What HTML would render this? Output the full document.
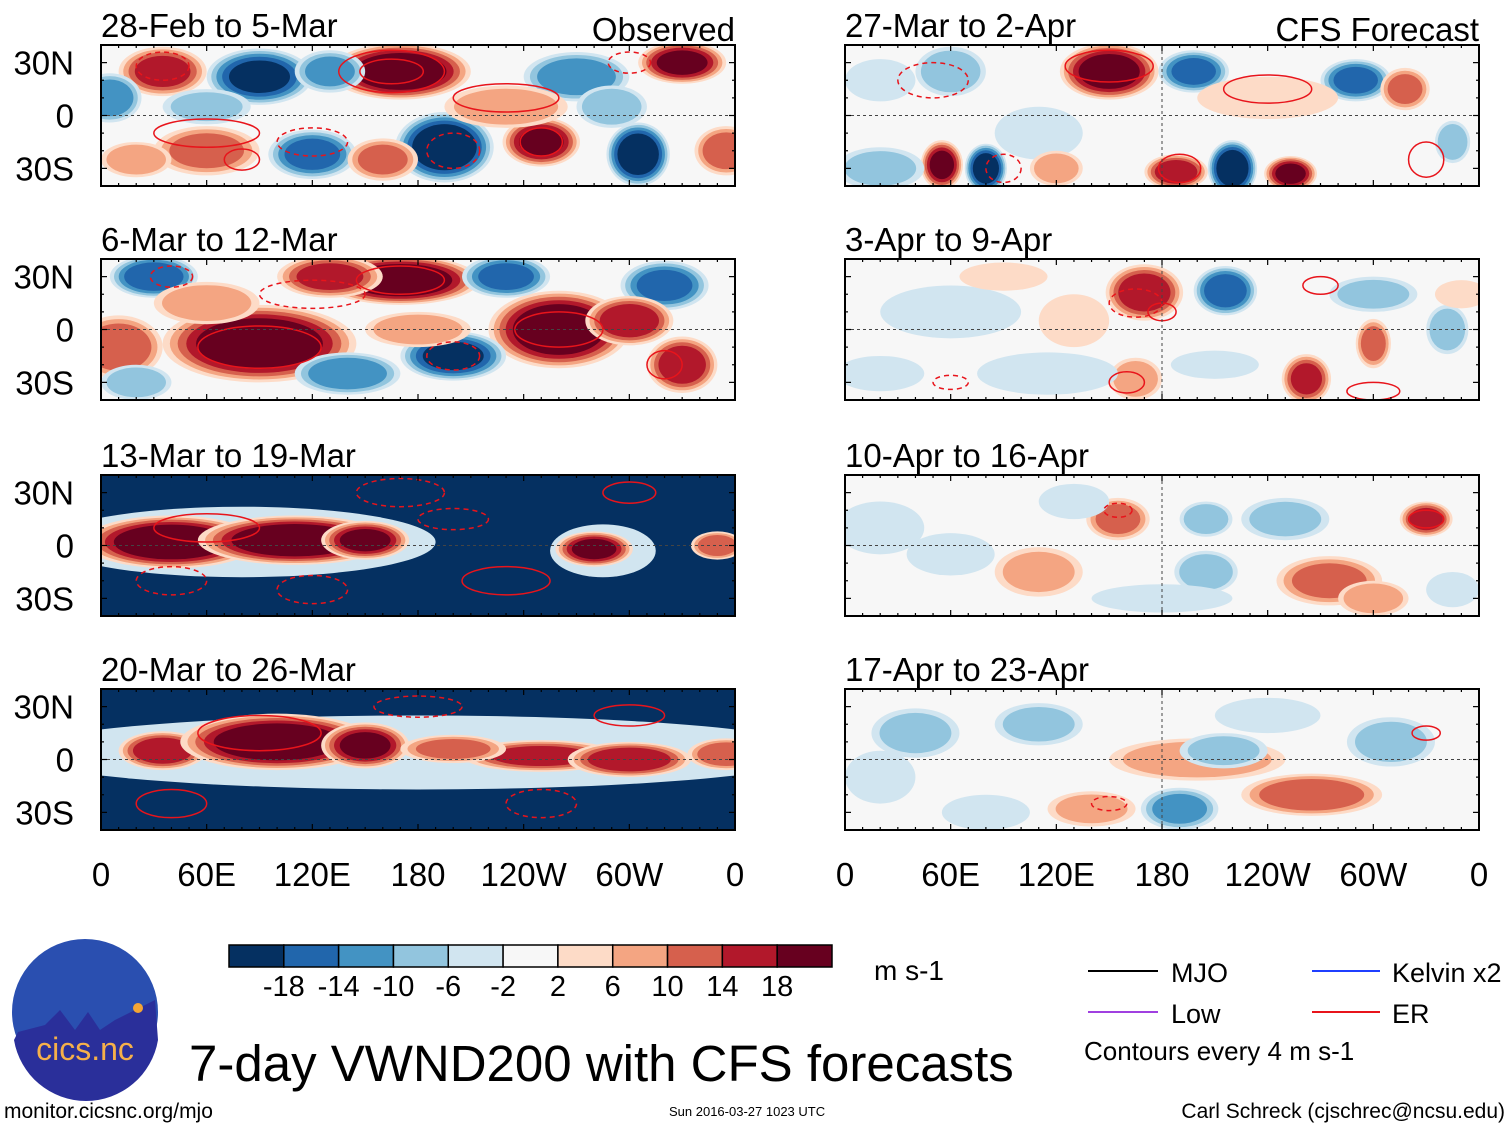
<!DOCTYPE html>
<html><head><meta charset="utf-8"><style>
html,body{margin:0;padding:0;background:#fff;}
svg{display:block;font-family:"Liberation Sans",sans-serif;}
</style></head><body>
<svg id="fig" width="1510" height="1127" viewBox="0 0 1510 1127"></svg>
<script>
// ---- data ----
const panelTitles = ["28-Feb to 5-Mar","6-Mar to 12-Mar","13-Mar to 19-Mar","20-Mar to 26-Mar","27-Mar to 2-Apr","3-Apr to 9-Apr","10-Apr to 16-Apr","17-Apr to 23-Apr"];
const panelBackground = [0,0,-22,-22,0,0,0,0];
// blobs: [lon, lat, value(m/s), lonRadius, latRadius]
const blobs0 = [[170,25,24,40,16],[35,25,16,25,14],[90,22,-20,30,16],[130,25,-12,20,12],[330,30,20,25,12],[195,-18,-24,28,20],[250,-15,20,22,14],[305,-22,-24,18,18],[60,-20,12,30,14],[120,-22,-16,25,14],[270,22,-14,30,14],[5,10,-14,18,14],[355,-20,14,18,14],[230,5,10,35,12],[20,-25,10,20,10],[160,-25,12,20,12],[290,5,-10,20,12],[60,5,-8,25,10]];
const blobs1 = [[90,-8,24,55,22],[170,28,24,45,14],[260,0,24,40,22],[200,-15,-20,30,14],[30,30,-18,25,12],[320,25,-16,25,14],[330,-20,18,20,16],[10,-10,14,25,18],[130,30,16,30,12],[230,30,-16,25,12],[140,-25,-14,30,12],[300,5,18,25,14],[60,15,10,30,12],[20,-30,-10,20,10],[180,0,10,30,10]];
const blobs2 = [[80,2,-2,110,20],[285,-3,-2,30,15],[40,2,24,50,15],[110,3,24,55,14],[150,3,20,25,11],[280,-2,20,22,10],[350,0,14,15,8]];
const blobs3 = [[180,4,-2,230,21],[35,5,18,25,11],[100,10,24,55,16],[150,8,20,25,13],[250,2,16,45,9],[300,0,18,35,10],[355,3,14,22,9],[200,6,12,30,8]];
const blobs4 = [[150,25,22,28,16],[198,25,-16,20,12],[290,20,-16,20,12],[318,15,12,14,12],[55,-28,20,12,14],[80,-30,-22,12,14],[188,-32,18,18,10],[220,-30,-24,14,16],[253,-33,20,15,10],[60,25,-10,20,14],[20,-30,-8,25,12],[110,-10,-6,25,15],[240,10,6,40,12],[345,-15,-10,10,12],[120,-30,10,15,10],[20,20,-6,20,12]];
const blobs5 = [[170,21,18,22,16],[216,22,-18,18,14],[165,-28,10,15,12],[262,-28,16,14,14],[300,-8,12,10,14],[115,-25,-6,40,12],[342,0,-10,12,14],[300,20,-8,25,10],[60,10,-4,40,15],[20,-25,-6,25,10],[90,30,6,25,8],[210,-20,-6,25,8],[350,20,6,15,8],[130,5,6,20,15]];
const blobs6 = [[155,15,12,18,12],[205,15,-10,15,10],[205,-15,-10,18,12],[275,-20,12,30,14],[330,15,16,15,10],[110,-15,8,25,14],[60,-5,-6,25,12],[250,15,-8,25,12],[300,-30,10,20,10],[20,10,-6,25,15],[180,-30,-4,40,8],[130,25,-4,20,10],[345,-25,-6,15,10]];
const blobs7 = [[200,0,10,50,12],[265,-20,14,40,12],[190,-28,-12,22,12],[110,20,-8,25,12],[215,5,-8,25,10],[40,15,-8,25,14],[310,10,-8,25,14],[140,-28,8,25,10],[80,-30,-6,25,10],[240,25,-6,30,10],[20,-10,-4,20,15]];
const allBlobs = [blobs0,blobs1,blobs2,blobs3,blobs4,blobs5,blobs6,blobs7];
// contours: [lon, lat, lonRadius, latRadius, dashed]
const contours0 = [[165,25,30,12,0],[165,25,18,7,0],[35,28,15,8,1],[200,-20,15,10,1],[250,-15,12,8,0],[80,-25,10,6,0],[300,30,12,6,1],[120,-15,20,8,1],[60,-10,30,8,0],[230,10,30,8,0]];
const contours1 = [[90,-10,35,12,0],[170,28,25,8,0],[260,0,25,10,0],[200,-15,15,8,1],[40,30,12,6,1],[320,-20,10,8,0],[120,20,30,8,1]];
const contours2 = [[60,10,30,8,0],[170,30,25,8,1],[230,-20,25,8,0],[300,30,15,6,0],[120,-25,20,8,1],[200,15,20,6,1],[40,-20,20,8,1]];
const contours3 = [[90,15,35,10,0],[180,30,25,6,1],[250,-25,20,8,1],[40,-25,20,8,0],[300,25,20,6,0]];
const contours4 = [[150,28,25,9,0],[190,-30,12,8,0],[50,20,20,10,1],[240,15,25,8,0],[90,-30,10,8,1],[330,-25,10,10,0]];
const contours5 = [[165,15,15,8,1],[180,10,8,5,0],[160,-30,10,6,0],[270,25,10,5,0],[60,-30,10,4,1],[300,-35,15,5,0]];
const contours6 = [[330,15,10,5,0],[155,20,8,4,1]];
const contours7 = [[330,15,8,4,0],[150,-25,10,4,1]];
const allContours = [contours0,contours1,contours2,contours3,contours4,contours5,contours6,contours7];
const lonTicks = [0,60,120,180,240,300,360];
const lonLabels = ["0","60E","120E","180","120W","60W","0"];
const latTicks = [30,0,-30];
const latLabels = ["30N","0","30S"];
const cbLevels = ["-18","-14","-10","-6","-2","2","6","10","14","18"];
const cbColors = ["#053061","#2166ac","#4393c3","#92c5de","#d1e5f0","#f7f7f7","#fddbc7","#f4a582","#d6604d","#b2182b","#67001f"];
const cbThresholds = [-18,-14,-10,-6,-2,2,6,10,14,18];

// ---- drawing ----
const NS="http://www.w3.org/2000/svg";
const svg=document.getElementById('fig');
function mk(tag,attrs,parent){const e=document.createElementNS(NS,tag);for(const k in attrs)e.setAttribute(k,attrs[k]);(parent||svg).appendChild(e);return e;}
function colorFor(v){let i=0;while(i<cbThresholds.length&&v>cbThresholds[i])i++;return cbColors[i];}
const colX=[101,845],rowY=[45,259,475,689],PW=634,PH=141;
function xScale(p,lon){return p.x+lon/360*PW;}
function yScale(p,lat){return p.y+PH/2-lat/40*(PH/2);}
for(let k=0;k<8;k++){
  const p={x:colX[k<4?0:1],y:rowY[k%4]};
  const g=mk('g',{});
  
  
  const cid='clip'+k;
  const cp=mk('clipPath',{id:cid},g);mk('rect',{x:p.x,y:p.y,width:PW,height:PH},cp);
  const inner=mk('g',{'clip-path':'url(#'+cid+')'},g);
  mk('rect',{x:p.x,y:p.y,width:PW,height:PH,fill:colorFor(panelBackground[k])},inner);
  for(const b of allBlobs[k]){
    const [lon,lat,v,rl,rt]=b;
    const sign=v<0?-1:1;const a=Math.abs(v);
    const levels=[2,6,10,14,18].filter(L=>L<a);
    if(levels.length===0){const e=mk('ellipse',{cx:xScale(p,lon),cy:yScale(p,lat),rx:rl/360*PW,ry:rt/40*PH/2,fill:colorFor(v)},inner);continue;}
    for(const L of levels){
      const f=Math.sqrt(1-(L-2)/(a+4));
      const e=mk('ellipse',{cx:xScale(p,lon),cy:yScale(p,lat),rx:rl*f/360*PW,ry:rt*f/40*PH/2,fill:colorFor(sign*(L+0.1))},inner);
      
      
    }
  }
  for(const c of allContours[k]){
    const e=mk('ellipse',{cx:xScale(p,c[0]),cy:yScale(p,c[1]),rx:c[2]/360*PW,ry:c[3]/40*PH/2,fill:'none',stroke:'#e8141b','stroke-width':1.5,'stroke-dasharray':c[4]?'5,4':'none'},inner);
    
    
  }
  mk('line',{x1:p.x,x2:p.x+PW,y1:yScale(p,0),y2:yScale(p,0),stroke:'#444','stroke-dasharray':'3,3','stroke-width':1},inner);
  if(k>=4) mk('line',{x1:xScale(p,180),x2:xScale(p,180),y1:p.y,y2:p.y+PH,stroke:'#444','stroke-dasharray':'3,3','stroke-width':1},inner);
  mk('rect',{x:p.x,y:p.y,width:PW,height:PH,fill:'none',stroke:'#000','stroke-width':2},g);
  for(let lon=0;lon<=360;lon+=10){
    const big=lon%60===0, x=xScale(p,lon), l=big?6:3;
    mk('line',{x1:x,x2:x,y1:p.y,y2:p.y+l,stroke:'#000','stroke-width':1.2},g);
    mk('line',{x1:x,x2:x,y1:p.y+PH,y2:p.y+PH-l,stroke:'#000','stroke-width':1.2},g);
  }
  for(let lat=-40;lat<=40;lat+=10){
    const big=lat%30===0,y=yScale(p,lat),l=big?6:3;
    mk('line',{x1:p.x,x2:p.x+l,y1:y,y2:y,stroke:'#000','stroke-width':1.2},g);
    mk('line',{x1:p.x+PW,x2:p.x+PW-l,y1:y,y2:y,stroke:'#000','stroke-width':1.2},g);
  }
  const t=mk('text',{x:p.x,y:p.y-8,'font-size':33,fill:'#000'},g);t.textContent=panelTitles[k];
  
  if(k===0||k===4){const s=mk('text',{x:p.x+PW,y:p.y-4,'font-size':33,'text-anchor':'end'},g);s.textContent=k===0?'Observed':'CFS Forecast';
    }
  if(k<4){latTicks.forEach((lt,i)=>{const s=mk('text',{x:74,y:yScale(p,lt)+12,'font-size':33,'text-anchor':'end'},g);s.textContent=latLabels[i];
    });}
  if(k%4===3){lonTicks.forEach((ln,i)=>{const s=mk('text',{x:xScale(p,ln),y:886,'font-size':33,'text-anchor':'middle'},g);s.textContent=lonLabels[i];
    });}
}
// colorbar
const cb=mk('g',{});
const cbx=229,cbw=603/11;
cbColors.forEach((c,i)=>{mk('rect',{x:cbx+i*cbw,y:945,width:cbw,height:22,fill:c,stroke:'#000','stroke-width':1.5},cb);});
cbLevels.forEach((l,i)=>{const s=mk('text',{x:cbx+(i+1)*cbw,y:996,'font-size':29,'text-anchor':'middle'},cb);s.textContent=l;
  });
</script>
<svg width="1510" height="1127" style="position:absolute;left:0;top:0">
<g font-family="Liberation Sans, sans-serif">
<text x="874" y="980" font-size="28">m s-1</text>
<g>
<line x1="1088" x2="1158" y1="971" y2="971" stroke="#000" stroke-width="2"/><text x="1171" y="982" font-size="27">MJO</text>
<line x1="1312" x2="1380" y1="971" y2="971" stroke="#1f3fff" stroke-width="2"/><text x="1392" y="982" font-size="27">Kelvin x2</text>
<line x1="1088" x2="1158" y1="1012" y2="1012" stroke="#a040e0" stroke-width="2"/><text x="1171" y="1023" font-size="27">Low</text>
<line x1="1312" x2="1380" y1="1012" y2="1012" stroke="#e8141b" stroke-width="2"/><text x="1392" y="1023" font-size="27">ER</text>
<text x="1084" y="1060" font-size="26">Contours every 4 m s-1</text>
</g>
<text x="189" y="1081" font-size="51">7-day VWND200 with CFS forecasts</text>
<text x="4" y="1118" font-size="21">monitor.cicsnc.org/mjo</text>
<text x="669" y="1116" font-size="13">Sun 2016-03-27 1023 UTC</text>
<text x="1505" y="1118" font-size="21" text-anchor="end">Carl Schreck (cjschrec@ncsu.edu)</text>
<g>
<circle cx="85" cy="1012" r="73" fill="#2a4fb0"/>
<path d="M18 1032 L45 1025 L60 1010 L75 1030 L88 1012 L100 1030 L115 1020 L155 1000 L158 1040 A73 73 0 0 1 14 1040Z" fill="#2a2f9a"/>
<circle cx="138" cy="1008" r="5" fill="#f4a534"/>
<text x="85" y="1060" font-size="32" fill="#f5b04a" text-anchor="middle">cics.nc</text>
</g>
</g></svg>
</body></html>
